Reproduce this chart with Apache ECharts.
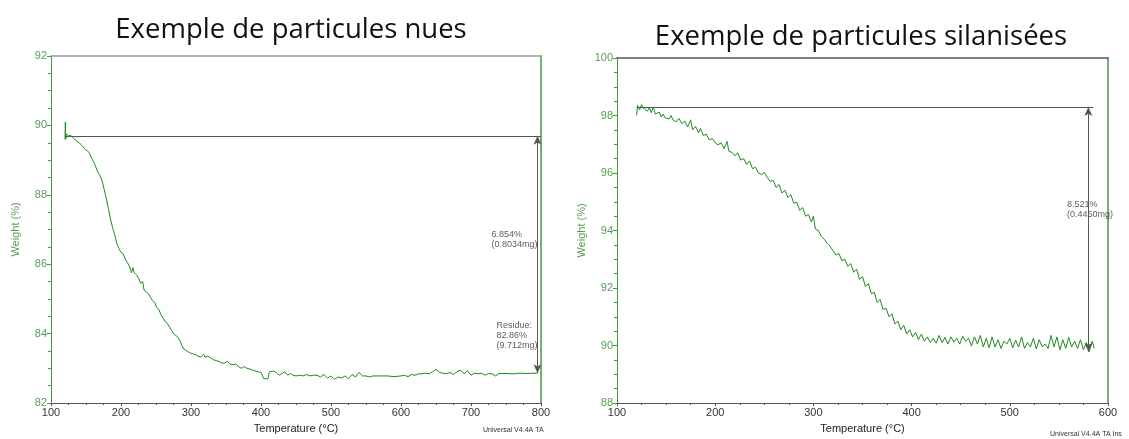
<!DOCTYPE html>
<html>
<head>
<meta charset="utf-8">
<script src="https://cdn.jsdelivr.net/npm/echarts@6/dist/echarts.min.js"></script>
<style>html,body{margin:0;padding:0;background:#fff;}#c{width:1129px;height:439px;}</style>
</head>
<body>
<div id="c"></div>
<script>
// ---- Titles ----
const titleLeft = "Exemple de particules nues";
const titleRight = "Exemple de particules silanisées";
const xAxisName = "Temperature (°C)";
const yAxisName = "Weight (%)";
const footer = "Universal V4.4A TA";
const footerRight = "Universal V4.4A TA Ins";

// ---- Left chart (particules nues) ----
const tempNues = [120,120.5,121,122,125,128,131,134,137,140,143,146,149,152,155,158,161,164,167,170,173,176,179,182,185,188,191,194,197,200,203,206,209,212,215,217,219,222,225,228,231,233,236,239,242,245,248,251,254,257,260,263,266,269,272,275,278,281,284,287,290,294,298,302,306,310,314,318,320,324,328,332,336,340,344,348,352,356,360,364,368,372,376,380,384,388,392,396,400,404,410,412,418,422,426,430,434,438,442,446,450,455,460,465,470,475,480,485,490,495,500,505,510,515,520,525,530,535,540,545,550,555,560,570,580,590,600,605,610,615,620,625,630,635,640,645,650,655,660,665,670,675,680,685,690,695,700,705,710,715,720,725,730,735,740,750,760,770,780,790,795];
const weightNues = [89.6,90.1,89.6,89.75,89.7,89.72,89.65,89.6,89.55,89.5,89.45,89.38,89.3,89.27,89.2,89.05,88.95,88.8,88.65,88.55,88.4,88.15,87.9,87.6,87.3,87.05,86.85,86.6,86.45,86.35,86.3,86.15,86.05,85.95,85.75,85.9,85.75,85.7,85.6,85.45,85.5,85.25,85.2,85.15,85.05,84.95,84.9,84.75,84.7,84.55,84.45,84.35,84.3,84.2,84.1,84.0,83.95,83.9,83.8,83.65,83.55,83.5,83.45,83.42,83.4,83.35,83.32,83.4,83.32,83.35,83.3,83.25,83.22,83.2,83.15,83.15,83.2,83.12,83.1,83.12,83.05,83.0,83.05,83.0,82.98,82.95,82.92,82.9,82.88,82.7,82.7,82.9,82.92,82.88,82.8,82.85,82.9,82.8,82.85,82.8,82.78,82.8,82.78,82.82,82.78,82.8,82.8,82.75,82.82,82.72,82.78,82.68,82.75,82.72,82.78,82.7,82.82,82.75,82.88,82.78,82.78,82.75,82.78,82.78,82.78,82.76,82.78,82.8,82.76,82.82,82.8,82.84,82.84,82.86,82.84,82.9,82.97,82.88,82.86,82.84,82.88,82.82,82.9,82.95,82.84,82.93,82.8,82.86,82.84,82.86,82.8,82.85,82.84,82.78,82.85,82.85,82.84,82.86,82.85,82.86,82.86];
const refNues = { start: 121, end: 800, top: 89.7, arrowAt: 795, bottom: 82.86 };
const lossNuesText = "6.854%\n(0.8034mg)";
const lossNuesPos = [730, 86.69];
const residueText = "Residue:\n82.86%\n(9.712mg)";
const residuePos = [737, 83.94];

// ---- Right chart (particules silanisées) ----
const tempSil = [120,121,123,125,127,129,131,133,135,137,139,141,143,145,147,149,151,153,155,157,160,163,166,169,172,175,177,180,183,185,188,191,194,197,200,203,206,209,212,214,217,220,223,226,229,232,235,238,241,244,247,250,253,256,259,262,265,268,271,274,277,280,283,286,289,292,295,298,300,302,305,308,311,314,317,320,323,326,329,332,335,338,341,344,347,350,353,356,359,362,365,368,371,374,377,380,383,386,389,392,395,398,401,404,407,410,413,416,419,422,425,428,431,434,437,440,443,446,449,452,455,458,461,464,467,470,473,476,479,482,485,488,491,494,497,500,503,506,509,512,515,518,521,524,527,530,533,536,539,542,545,548,551,554,557,560,563,566,569,572,575,578,581,584,586];
const weightSil = [98.0,98.35,98.2,98.38,98.25,98.3,98.15,98.28,98.1,98.3,98.05,98.0,98.12,97.95,98.05,97.92,97.98,97.88,98.0,97.85,97.78,97.9,97.72,97.8,97.6,97.85,97.5,97.62,97.4,97.55,97.3,97.35,97.15,97.2,97.05,96.98,97.05,96.85,97.1,96.75,96.72,96.6,96.7,96.45,96.5,96.3,96.42,96.15,96.2,96.0,95.95,96.02,95.85,95.7,95.75,95.5,95.6,95.3,95.4,95.15,95.25,94.95,94.98,94.7,94.8,94.5,94.55,94.3,94.5,94.05,94.0,93.8,93.7,93.55,93.45,93.3,93.15,93.2,92.95,93.0,92.75,92.85,92.55,92.65,92.3,92.4,92.05,92.15,91.8,91.85,91.5,91.6,91.25,91.3,91.0,91.1,90.75,90.85,90.55,90.7,90.4,90.55,90.3,90.45,90.2,90.4,90.15,90.3,90.1,90.25,90.08,90.35,90.1,90.28,90.05,90.3,90.12,90.25,90.05,90.32,90.15,90.25,89.98,90.3,90.05,90.35,89.95,90.25,89.92,90.3,89.95,90.2,89.9,90.15,90.05,90.25,89.92,90.18,89.95,90.3,89.9,90.1,89.95,90.25,89.88,90.2,89.95,90.05,89.9,90.35,89.95,90.3,89.85,90.2,89.9,90.28,89.95,90.15,89.9,90.2,89.85,90.1,89.8,90.15,89.9];
const refSil = { start: 120, end: 585, top: 98.3, arrowAt: 580, bottom: 89.78 };
const lossSilText = "8.521%\n(0.4450mg)";
const lossSilPos = [558.7, 94.7];

function zip(a, b) { return a.map((v, i) => [v, b[i]]); }

const GREEN_AXIS = '#3f9a3f';
const GREEN_LABEL = '#559c55';
const CURVE = '#1f8a1f';
const fontMain = 'Liberation Sans, Arial, sans-serif';

function bottomAxis(gi, min, max) {
  return {
    type: 'value', gridIndex: gi, min: min, max: max, interval: 100, position: 'bottom',
    name: xAxisName, nameLocation: 'middle', nameGap: 20,
    nameTextStyle: { color: '#222', fontSize: 11, fontFamily: fontMain },
    axisLine: { show: true, lineStyle: { color: '#555', width: 1 } },
    axisTick: { show: true, length: 3, lineStyle: { color: '#555' } },
    minorTick: { show: true, splitNumber: 4, length: 2, lineStyle: { color: '#555' } },
    axisLabel: { color: '#333', fontSize: 11, fontFamily: fontMain, margin: 4 },
    splitLine: { show: false }
  };
}
function topAxis(gi, min, max, color) {
  return {
    type: 'value', gridIndex: gi, min: min, max: max, position: 'top',
    axisLine: { show: true, lineStyle: { color: color, width: 1.5 } },
    axisTick: { show: false }, axisLabel: { show: false }, splitLine: { show: false }
  };
}
function leftAxis(gi, min, max) {
  return {
    type: 'value', gridIndex: gi, min: min, max: max, interval: 2, position: 'left',
    name: yAxisName, nameLocation: 'middle', nameGap: 30, nameRotate: 90,
    nameTextStyle: { color: GREEN_LABEL, fontSize: 11, fontFamily: fontMain },
    axisLine: { show: true, lineStyle: { color: GREEN_AXIS, width: 1 } },
    axisTick: { show: true, length: 4, lineStyle: { color: GREEN_AXIS } },
    minorTick: { show: true, splitNumber: 4, length: 3, lineStyle: { color: GREEN_AXIS } },
    axisLabel: { color: GREEN_LABEL, fontSize: 11, fontFamily: fontMain, margin: 4 },
    splitLine: { show: false }
  };
}
function rightAxis(gi, min, max) {
  return {
    type: 'value', gridIndex: gi, min: min, max: max, position: 'right',
    axisLine: { show: true, lineStyle: { color: GREEN_AXIS, width: 1.5 } },
    axisTick: { show: false }, axisLabel: { show: false }, splitLine: { show: false }
  };
}

function refMarkLine(r) {
  return {
    silent: true, animation: false, symbol: 'none',
    lineStyle: { color: '#555', width: 1, type: 'solid' },
    label: { show: false },
    data: [
      [{ coord: [r.start, r.top], symbol: 'none' }, { coord: [r.end, r.top], symbol: 'none' }],
      [{ coord: [r.arrowAt, r.top], symbol: 'arrow', symbolSize: [6, 9] }, { coord: [r.arrowAt, r.bottom], symbol: 'arrow', symbolSize: [6, 9] }]
    ]
  };
}
function note(xi, yi, pos, text) {
  return {
    type: 'scatter', xAxisIndex: xi, yAxisIndex: yi, symbolSize: 1, silent: true,
    itemStyle: { color: 'rgba(0,0,0,0)' },
    data: [pos],
    label: {
      show: true, position: [0, 0], align: 'left', verticalAlign: 'middle',
      formatter: text, color: '#333', fontSize: 9, lineHeight: 10, fontFamily: fontMain
    }
  };
}

const chart = echarts.init(document.getElementById('c'), null, { renderer: 'canvas' });
chart.setOption({
  animation: false,
  backgroundColor: '#fff',
  graphic: [
    { type: 'text', x: 291, y: 30, style: { text: titleLeft, font: '27.5px "Open Sans", sans-serif', fill: '#111', textAlign: 'center', textVerticalAlign: 'middle' } },
    { type: 'text', x: 861, y: 37, style: { text: titleRight, font: '27.5px "Open Sans", sans-serif', fill: '#111', textAlign: 'center', textVerticalAlign: 'middle' } },
    { type: 'text', x: 483, y: 430, style: { text: footer, font: '7px ' + fontMain, fill: '#333', textVerticalAlign: 'middle' } },
    { type: 'text', x: 1050, y: 434, style: { text: footerRight, font: '7px ' + fontMain, fill: '#333', textVerticalAlign: 'middle' } }
  ],
  grid: [
    { left: 51, top: 56, width: 490, height: 350 },
    { left: 617, top: 58, width: 491, height: 350 }
  ],
  xAxis: [
    bottomAxis(0, 100, 800),
    bottomAxis(1, 100, 600),
    topAxis(0, 100, 800, '#9a9a9a'),
    topAxis(1, 100, 600, '#555')
  ],
  yAxis: [
    leftAxis(0, 82, 92),
    leftAxis(1, 88, 100),
    rightAxis(0, 82, 92),
    rightAxis(1, 88, 100)
  ],
  series: [
    {
      type: 'line', xAxisIndex: 0, yAxisIndex: 0, data: zip(tempNues, weightNues),
      showSymbol: false, lineStyle: { color: CURVE, width: 1 }, itemStyle: { color: CURVE },
      markLine: refMarkLine(refNues)
    },
    {
      type: 'line', xAxisIndex: 1, yAxisIndex: 1, data: zip(tempSil, weightSil),
      showSymbol: false, lineStyle: { color: CURVE, width: 1 }, itemStyle: { color: CURVE },
      markLine: refMarkLine(refSil)
    },
    note(0, 0, lossNuesPos, lossNuesText),
    note(0, 0, residuePos, residueText),
    note(1, 1, lossSilPos, lossSilText)
  ]
});
</script>
</body>
</html>
